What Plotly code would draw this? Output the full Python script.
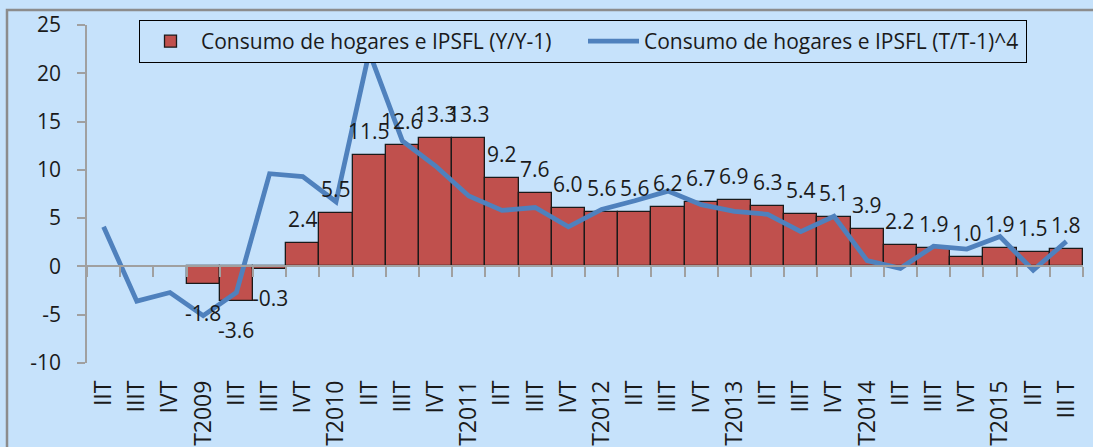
import plotly.graph_objects as go

categories = ["IIT", "IIIT", "IVT", "T2009", "IIT", "IIIT", "IVT", "T2010",
              "IIT", "IIIT", "IVT", "T2011", "IIT", "IIIT", "IVT", "T2012",
              "IIT", "IIIT", "IVT", "T2013", "IIT", "IIIT", "IVT", "T2014",
              "IIT", "IIIT", "IVT", "T2015", "IIT", "III T"]

yoy = [None, None, None, -1.8, -3.6, -0.3, 2.4, 5.5,
       11.5, 12.6, 13.3, 13.3, 9.2, 7.6, 6.0, 5.6,
       5.6, 6.2, 6.7, 6.9, 6.3, 5.4, 5.1, 3.9,
       2.2, 1.9, 1.0, 1.9, 1.5, 1.8]

qoq4 = [4.1, -3.6, -2.7, -5.1, -2.7, 9.6, 9.3, 6.7,
        22.2, 13.0, 10.4, 7.3, 5.8, 6.1, 4.1, 5.9,
        6.8, 7.8, 6.4, 5.7, 5.4, 3.6, 5.2, 0.6,
        -0.2, 2.1, 1.8, 3.1, -0.4, 2.6]

y_ticks = [-10, -5, 0, 5, 10, 15, 20, 25]
y_ticktext = ["-10", "-5", "0", "5", "10", "15", "20", "25"]

bar_name = "Consumo de hogares e IPSFL (Y/Y-1)"
line_name = "Consumo de hogares e IPSFL (T/T-1)^4"

BG = "#C6E2FB"
FONT = "Open Sans"
TXT = "#1a1a1a"
x = list(range(len(categories)))

fig = go.Figure()
fig.add_trace(go.Bar(
    x=x, y=yoy, name=bar_name, width=1.0,
    marker=dict(color="#C0504D", line=dict(color="#1a1a1a", width=1.3)),
))
fig.add_trace(go.Scatter(
    x=x, y=qoq4, name=line_name, mode="lines",
    line=dict(color="#4F81BD", width=4.8),
))

# data labels
for xi, v in zip(x, yoy):
    if v is None:
        continue
    fig.add_annotation(
        x=xi, y=v, text=f"{v:.1f}", showarrow=False,
        yanchor="middle", xanchor="center",
        yshift=24 if v >= 0 else -29,
        font=dict(family=FONT, size=21, color=TXT),
    )

# outer chart frame
fig.add_shape(type="rect", xref="paper", yref="paper",
              x0=(7 - 87) / 996, x1=(1130 - 87) / 996,
              y0=(363 - 480) / 338, y1=(363 - 10) / 338,
              line=dict(color="#8C8C8C", width=2.5), layer="below")

fig.update_layout(
    width=1093, height=447,
    margin=dict(l=87, r=10, t=25, b=84),
    paper_bgcolor=BG, plot_bgcolor=BG,
    font=dict(family=FONT, size=21, color=TXT),
    bargap=0,
    showlegend=True,
    legend=dict(
        orientation="h", x=(139 - 87) / 996, xanchor="left",
        y=(363 - 20) / 338, yanchor="top",
        bgcolor=BG, bordercolor="#000000", borderwidth=1,
        font=dict(family=FONT, size=21, color=TXT),
        itemwidth=51, tracegroupgap=0,
        entrywidth=377, entrywidthmode="pixels",
    ),
    xaxis=dict(
        range=[-0.5, 29.5], tickmode="array", tickvals=x, ticktext=categories,
        tickangle=-90, showgrid=False, zeroline=False, showline=False,
        ticks="", ticklabelstandoff=12, automargin=False,
        tickfont=dict(family=FONT, size=23, color=TXT),
    ),
    xaxis2=dict(
        overlaying="x", anchor="free", position=10 / 35, side="bottom",
        range=[-0.5, 29.5], tickmode="array",
        tickvals=[i - 0.5 for i in range(31)], showticklabels=False,
        showline=True, linecolor="#A0A0A0", linewidth=1.5,
        ticks="outside", ticklen=10, tickcolor="#A0A0A0", tickwidth=1.5,
        showgrid=False, zeroline=False, automargin=False,
    ),
    yaxis=dict(
        range=[-10, 25], tickmode="array", tickvals=y_ticks, ticktext=y_ticktext,
        showgrid=False, zeroline=False,
        showline=True, linecolor="#A0A0A0", linewidth=1.5,
        ticks="outside", ticklen=8, tickcolor="#A0A0A0", tickwidth=1.5,
        ticklabelstandoff=12, automargin=False,
        tickfont=dict(family=FONT, size=21, color=TXT),
    ),
)
# invisible trace to activate xaxis2
fig.add_trace(go.Scatter(x=[0], y=[None], xaxis="x2", showlegend=False,
                         hoverinfo="skip"))

fig.write_html("out.html", config={"displayModeBar": False},
               post_script="document.body.style.margin='0';document.body.style.overflow='hidden';")
